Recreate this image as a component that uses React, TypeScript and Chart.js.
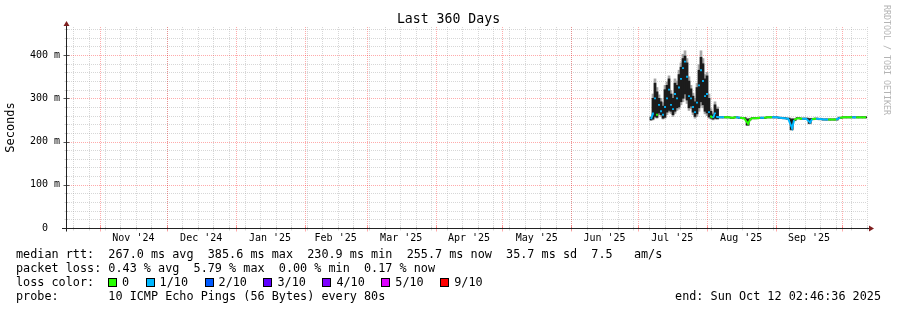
import React, { useEffect, useRef } from "react";
import { Chart, registerables } from "chart.js";

Chart.register(...registerables);

const MONO = '"DejaVu Sans Mono", monospace';

// ---- time axis (days since start of the 360-day window: Oct 17 2024 02:46) ----
const xMin = 0;
const xMax = 360;
const monthStarts = [14.88, 44.88, 75.88, 106.88, 134.88, 165.88, 195.88, 226.88, 256.88, 287.88, 318.88, 348.88];
const monthLabels = ["Nov '24", "Dec '24", "Jan '25", "Feb '25", "Mar '25", "Apr '25", "May '25", "Jun '25", "Jul '25", "Aug '25", "Sep '25"];
const firstSunday = 2.88;
const weekLength = 7;

// ---- value axis (ms) ----
const yMax = 465;
const yTicks = [0, 100, 200, 300, 400];
const yTickLabels = ["0  ", "100 m", "200 m", "300 m", "400 m"];
const yMajorStep = 100;
const yMinorStep = 20;

// ---- loss colours ----
const lossLabels = ["0", "1/10", "2/10", "3/10", "4/10", "5/10", "9/10"];
const lossColors = ["#26ff00", "#00b8ff", "#0059ff", "#5e00ff", "#7e00ff", "#dd00ff", "#ff0000"];

// ---- series ----
const days = [
  262.8, 263.7, 264.6, 265.5, 266.4, 267.3, 268.2, 269.1, 270.0, 270.9, 271.8, 272.7, 273.6, 274.5, 275.4, 276.3, 277.2,
  278.1, 279.0, 279.9, 280.8, 281.7, 282.6, 283.5, 284.4, 285.3, 286.2, 287.1, 288.0, 288.9, 289.8, 290.7, 291.6, 292.5,
  293.9, 295.7, 297.5, 299.3, 301.1, 302.9, 304.7, 306.5, 307.4, 308.3, 310.1, 311.9, 313.7, 315.5, 317.3, 319.1, 320.9,
  322.7, 324.5, 326.3, 327.2, 329.0, 330.8, 332.6, 334.4, 335.3, 337.1, 338.9, 340.7, 342.5, 344.3, 346.1, 347.9, 349.7,
  351.5, 353.3, 355.1, 356.9, 358.7, 359.6,
];
const median = [
  252, 265, 300, 262, 285, 270, 262, 280, 300, 320, 285, 275, 310, 300, 325, 345, 370,
  385, 350, 305, 300, 280, 268, 290, 330, 365, 340, 305, 310, 268, 258, 255, 265, 257,
  256, 256, 256, 255, 256, 255, 254, 241, 251, 254, 254, 255, 255, 256, 256, 256, 255,
  254, 253, 231, 250, 254, 253, 253, 244, 252, 253, 252, 251, 251, 251, 251, 255, 256,
  256, 256, 256, 256, 256, 256,
];
const loss = [
  1, 1, 1, 0, 1, 1, 1, 1, 1, 1, 1, 1, 1, 1, 1, 1, 1,
  1, 1, 1, 1, 1, 1, 1, 1, 1, 1, 1, 1, 1, 0, 1, 1, 1,
  1, 0, 0, 0, 1, 0, 0, 0, 0, 0, 0, 1, 0, 0, 1, 1, 1,
  1, 1, 1, 0, 0, 1, 1, 1, 0, 1, 1, 1, 0, 0, 1, 0, 0,
  0, 1, 0, 0, 0, 0,
];
const coreLo = [
  250, 252, 258, 256, 266, 262, 254, 256, 268, 272, 270, 262, 270, 278, 280, 292, 300,
  310, 296, 278, 282, 268, 258, 264, 278, 292, 285, 270, 266, 257, 254, 252, 254, 253,
  255, 255, 255, 254, 255, 254, 253, 238, 250, 253, 253, 254, 254, 255, 255, 255, 254,
  253, 252, 228, 249, 253, 252, 252, 242, 251, 252, 251, 250, 250, 250, 250, 254, 255,
  255, 255, 255, 255, 255, 255,
];
const coreHi = [
  256, 300, 335, 315, 300, 292, 282, 320, 330, 345, 310, 300, 335, 330, 355, 372, 392,
  398, 382, 340, 322, 305, 292, 325, 365, 395, 380, 345, 352, 300, 270, 262, 285, 275,
  257, 257, 257, 256, 257, 256, 255, 252, 253, 255, 255, 256, 256, 257, 257, 257, 256,
  255, 254, 252, 252, 255, 254, 254, 253, 253, 254, 253, 252, 252, 252, 252, 256, 257,
  257, 257, 257, 257, 257, 257,
];
const smokeLo = [
  249, 250, 255, 254, 262, 258, 252, 254, 262, 268, 265, 258, 265, 272, 275, 285, 292,
  300, 288, 272, 276, 262, 254, 258, 270, 282, 278, 264, 260, 254, 252, 250, 252, 251,
  254, 254, 254, 253, 254, 253, 252, 237, 249, 252, 252, 253, 253, 254, 254, 254, 253,
  252, 251, 226, 248, 252, 251, 251, 241, 250, 251, 250, 249, 249, 249, 249, 253, 254,
  254, 254, 254, 254, 254, 254,
];
const smokeHi = [
  258, 310, 345, 325, 308, 300, 290, 330, 338, 352, 318, 310, 345, 340, 365, 382, 402,
  410, 392, 350, 330, 312, 300, 335, 378, 410, 392, 355, 360, 310, 276, 266, 292, 280,
  258, 258, 258, 257, 258, 257, 256, 254, 254, 256, 256, 257, 257, 258, 258, 258, 257,
  256, 255, 254, 253, 256, 255, 255, 254, 254, 255, 254, 253, 253, 253, 253, 257, 258,
  258, 258, 258, 258, 258, 258,
];

// ---- legend text ----
const rttLine = "median rtt:  267.0 ms avg  385.6 ms max  230.9 ms min  255.7 ms now  35.7 ms sd  7.5   am/s";
const lossLine = "packet loss: 0.43 % avg  5.79 % max  0.00 % min  0.17 % now";
const probeLine = "probe:       10 ICMP Echo Pings (56 Bytes) every 80s";
const endLine = "end: Sun Oct 12 02:46:36 2025";
const titleText = "Last 360 Days";
const yTitle = "Seconds";
const watermark = "RRDTOOL / TOBI OETIKER";

const MINOR = "rgba(160,160,160,0.42)";
const MAJOR = "rgba(255,0,0,0.33)";
const AXIS = "#222";
const ARROW = "#7f1f1f";
const SMOKE_CORE = "#1c1c1c";
const SMOKE_EDGE = "#a8a8a8";
const JITTER_MS = 15; // spread above which the median is shown as dots over the smoke

function colorFor(n: number) {
  return lossColors[Math.min(n, lossColors.length - 1)];
}
function jittery(i: number) {
  return coreHi[i] - coreLo[i] > JITTER_MS;
}

const rrdPlugin = {
  id: "rrdGrid",
  beforeDatasetsDraw(chart: any) {
    const { ctx, chartArea: a } = chart;
    const x = chart.scales.x;
    const y = chart.scales.y;
    ctx.save();
    ctx.lineWidth = 1;
    ctx.setLineDash([1, 1]);
    const hline = (v: number, color: string) => {
      const py = Math.round(y.getPixelForValue(v)) + 0.5;
      ctx.strokeStyle = color;
      ctx.beginPath();
      ctx.moveTo(a.left, py);
      ctx.lineTo(a.right, py);
      ctx.stroke();
    };
    const vline = (v: number, color: string) => {
      const px = Math.round(x.getPixelForValue(v)) + 0.5;
      ctx.strokeStyle = color;
      ctx.beginPath();
      ctx.moveTo(px, a.bottom);
      ctx.lineTo(px, a.top);
      ctx.stroke();
    };
    for (let v = yMinorStep; v <= yMax; v += yMinorStep) {
      if (v % yMajorStep !== 0) hline(v, MINOR);
    }
    for (let d = firstSunday; d <= xMax; d += weekLength) vline(d, MINOR);
    for (let v = yMajorStep; v <= yMax; v += yMajorStep) hline(v, MAJOR);
    for (const d of monthStarts) vline(d, MAJOR);
    ctx.restore();
  },
  afterDatasetsDraw(chart: any) {
    const { ctx, chartArea: a } = chart;
    const x = chart.scales.x;
    const y = chart.scales.y;
    ctx.save();
    ctx.setLineDash([]);
    ctx.lineWidth = 1;
    const ax = a.left - 0.5;
    const ay = Math.round(y.getPixelForValue(0)) + 0.5;
    for (let v = yMinorStep; v <= yMax; v += yMinorStep) {
      const py = Math.round(y.getPixelForValue(v)) + 0.5;
      const major = v % yMajorStep === 0;
      ctx.strokeStyle = major ? "#555" : MINOR;
      ctx.beginPath();
      ctx.moveTo(ax - (major ? 3 : 2), py);
      ctx.lineTo(ax + (major ? 3 : 2), py);
      ctx.stroke();
    }
    for (let d = firstSunday; d <= xMax; d += weekLength) {
      const px = Math.round(x.getPixelForValue(d)) + 0.5;
      ctx.strokeStyle = MINOR;
      ctx.beginPath();
      ctx.moveTo(px, ay - 2);
      ctx.lineTo(px, ay + 2);
      ctx.stroke();
    }
    for (const d of monthStarts) {
      const px = Math.round(x.getPixelForValue(d)) + 0.5;
      ctx.strokeStyle = MAJOR;
      ctx.beginPath();
      ctx.moveTo(px, ay - 3);
      ctx.lineTo(px, ay + 3);
      ctx.stroke();
    }
    ctx.strokeStyle = AXIS;
    ctx.beginPath();
    ctx.moveTo(a.left - 5, ay);
    ctx.lineTo(a.right + 3, ay);
    ctx.moveTo(ax, ay + 3);
    ctx.lineTo(ax, a.top - 4);
    ctx.stroke();
    ctx.fillStyle = ARROW;
    ctx.beginPath();
    ctx.moveTo(ax - 3, a.top - 1);
    ctx.lineTo(ax + 3, a.top - 1);
    ctx.lineTo(ax, a.top - 6);
    ctx.closePath();
    ctx.fill();
    ctx.beginPath();
    ctx.moveTo(a.right + 2, ay - 3);
    ctx.lineTo(a.right + 2, ay + 3);
    ctx.lineTo(a.right + 7, ay);
    ctx.closePath();
    ctx.fill();
    ctx.restore();
  },
};

export default function App() {
  const ref = useRef<HTMLCanvasElement>(null);

  useEffect(() => {
    if (!ref.current) return;
    const labelDays = monthLabels.map((_, i) => (monthStarts[i] + monthStarts[i + 1]) / 2);
    const range = (lo: number[], hi: number[]) => days.map((d, i) => ({ x: d, y: [lo[i], hi[i]] }));
    const barCommon = {
      type: "bar" as const,
      barThickness: "flex" as const,
      barPercentage: 1,
      categoryPercentage: 1,
      borderWidth: 0,
    };
    const chart = new Chart(ref.current, {
      type: "bar",
      data: {
        datasets: [
          {
            type: "line",
            label: "median",
            data: days.map((d, i) => ({ x: d, y: median[i] })),
            borderColor: colorFor(0),
            borderWidth: 2,
            tension: 0,
            order: 0,
            pointStyle: "rect",
            pointRadius: days.map((_, i) => (jittery(i) ? 1.3 : 0)),
            pointBorderWidth: 0,
            pointBackgroundColor: days.map((_, i) => colorFor(loss[i])),
            segment: {
              borderColor: (c: any) =>
                jittery(c.p0DataIndex) && jittery(c.p1DataIndex) ? SMOKE_CORE : colorFor(loss[c.p0DataIndex]),
              borderWidth: (c: any) => (jittery(c.p0DataIndex) && jittery(c.p1DataIndex) ? 1 : 2),
            },
          } as any,
          { ...barCommon, label: "core", data: range(coreLo, coreHi), backgroundColor: SMOKE_CORE, order: 1 } as any,
          { ...barCommon, label: "smoke", data: range(smokeLo, smokeHi), backgroundColor: SMOKE_EDGE, order: 2 } as any,
        ],
      },
      options: {
        responsive: false,
        animation: false,
        devicePixelRatio: 1,
        events: [],
        layout: { padding: { top: 27, right: 30, bottom: 65, left: 0 } },
        plugins: {
          legend: { display: false },
          tooltip: { enabled: false },
          title: { display: false },
        },
        scales: {
          x: {
            type: "linear",
            min: xMin,
            max: xMax,
            offset: false,
            stacked: true,
            grid: { display: false, drawTicks: false, offset: false },
            border: { display: false },
            afterBuildTicks: (s: any) => {
              s.ticks = labelDays.map((v) => ({ value: v }));
            },
            afterFit: (s: any) => {
              s.height = 17;
            },
            ticks: {
              autoSkip: false,
              maxRotation: 0,
              minRotation: 0,
              padding: 4,
              color: "#000",
              font: { family: MONO, size: 10 },
              callback: (_v: any, i: number) => monthLabels[i],
            },
          },
          y: {
            type: "linear",
            min: 0,
            max: yMax,
            stacked: false,
            grid: { display: false, drawTicks: false },
            border: { display: false },
            afterBuildTicks: (s: any) => {
              s.ticks = yTicks.map((v) => ({ value: v }));
            },
            afterFit: (s: any) => {
              s.width = 67;
            },
            ticks: {
              padding: 7,
              color: "#000",
              font: { family: MONO, size: 10 },
              callback: (_v: any, i: number) => yTickLabels[i],
            },
            title: {
              display: true,
              text: yTitle,
              color: "#000",
              font: { family: MONO, size: 12 },
              padding: { top: 4, bottom: 0 },
            },
          },
        },
      } as any,
      plugins: [rrdPlugin],
    });
    return () => chart.destroy();
  }, []);

  const legendRow: React.CSSProperties = {
    position: "absolute",
    left: 16,
    whiteSpace: "pre",
    fontFamily: MONO,
    fontSize: "11.8px",
    lineHeight: "14px",
    color: "#000",
  };

  return (
    <div
      style={{
        position: "absolute",
        left: 0,
        top: 0,
        width: 897,
        height: 310,
        background: "#fff",
        overflow: "hidden",
      }}
    >
      <canvas ref={ref} width={897} height={310} style={{ position: "absolute", left: 0, top: 0 }} />
      <div
        style={{
          position: "absolute",
          left: 0,
          top: 11,
          width: 897,
          textAlign: "center",
          fontFamily: MONO,
          fontSize: "13.2px",
          lineHeight: "16px",
          color: "#000",
        }}
      >
        {titleText}
      </div>
      <div
        style={{
          position: "absolute",
          left: 882,
          top: 5,
          writingMode: "vertical-rl",
          fontFamily: MONO,
          fontSize: "8.3px",
          lineHeight: "10px",
          color: "#b4b4b4",
          whiteSpace: "pre",
        }}
      >
        {watermark}
      </div>
      <div style={{ ...legendRow, top: 247 }}>{rttLine}</div>
      <div style={{ ...legendRow, top: 261 }}>{lossLine}</div>
      <div style={{ ...legendRow, top: 275 }}>loss color:</div>
      <div
        style={{
          position: "absolute",
          left: 108,
          top: 275,
          display: "flex",
          alignItems: "center",
          height: 14,
          fontFamily: MONO,
          fontSize: "11.8px",
          lineHeight: "14px",
          whiteSpace: "pre",
        }}
      >
        {lossLabels.map((l, i) => (
          <span key={l} style={{ display: "flex", alignItems: "center", marginRight: 16.5 }}>
            <span
              style={{
                display: "inline-block",
                boxSizing: "border-box",
                width: 9,
                height: 9,
                border: "1px solid #000",
                background: lossColors[i],
                marginRight: 5,
              }}
            />
            <span>{l}</span>
          </span>
        ))}
      </div>
      <div style={{ ...legendRow, top: 289 }}>{probeLine}</div>
      <div style={{ ...legendRow, left: undefined, right: 16, top: 289 }}>{endLine}</div>
    </div>
  );
}
